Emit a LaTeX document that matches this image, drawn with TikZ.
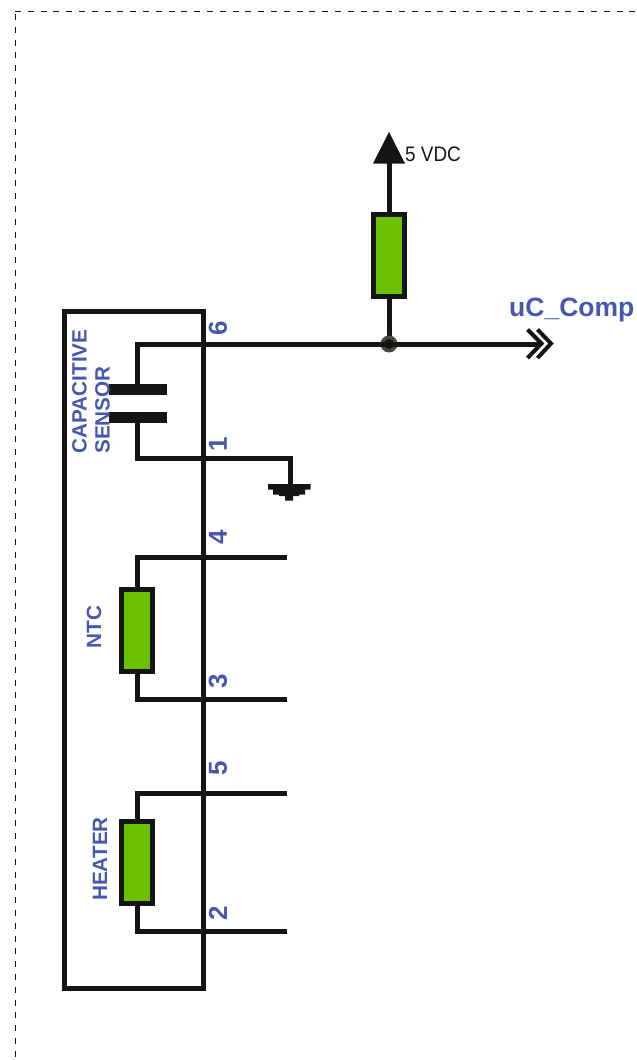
\documentclass[tikz,border=0pt]{standalone}
\usepackage{fontspec}
\setmainfont{Liberation Sans}
\definecolor{ink}{HTML}{141614}
\definecolor{lbl}{HTML}{4657B0}
\definecolor{fillg}{HTML}{6CC000}
\definecolor{jn}{HTML}{4A4A40}
\newcommand{\fs}[1]{\fontsize{#1}{#1}\selectfont}
\tikzset{
  x=1pt,y=-1pt,
  wire/.style={draw=ink,line width=5pt,line join=miter},
  res/.style={draw=ink,fill=fillg,line width=5pt,minimum width=31pt,minimum height=82pt,inner sep=0pt,outer sep=0pt,rectangle},
  plate/.style={fill=ink,minimum width=58pt,minimum height=11pt,inner sep=0pt,outer sep=0pt,rectangle},
  vlabel/.style={text=lbl,font=\fs{20.7}\bfseries,rotate=90,inner sep=0pt,align=center},
  pin/.style={text=lbl,font=\fs{26}\bfseries,rotate=90,inner sep=0pt},
}
\begin{document}
\begin{tikzpicture}
\useasboundingbox (0,0) rectangle (637,1060);
% dashed frame
\draw[draw=ink,line width=1pt,dash pattern=on 6pt off 6.8pt] (15,11) -- (637,11);
\draw[draw=ink,line width=1pt,dash pattern=on 6pt off 6.8pt] (15,14) -- (15,1060);
% module box
\node[draw=ink,line width=5pt,minimum width=139pt,minimum height=677pt,inner sep=0pt,outer sep=0pt,rectangle] (box) at (134,649.5) {};
% coordinates
\coordinate (tl) at (137.5,344);
\coordinate (j) at (389,344);
\coordinate (out) at (540,344);
\coordinate (bl) at (137.5,458);
\coordinate (gc) at (290,458);
\coordinate (gt) at (290,485);
\coordinate (vcc) at (389,160);
\coordinate (n4a) at (137,557); \coordinate (n4b) at (287,557);
\coordinate (n3a) at (137,699); \coordinate (n3b) at (287,699);
\coordinate (n5a) at (137,793); \coordinate (n5b) at (287,793);
\coordinate (n2a) at (137,931); \coordinate (n2b) at (287,931);
% parts
\node[res] (r1) at (389,255.5) {};
\node[res] (ntc) at (137,630) {};
\node[res] (htr) at (137,862) {};
\node[plate] (c1) at (138,389.5) {};
\node[plate] (c2) at (138,417.5) {};
% wires
\draw[wire] (tl |- c1.north) -- (tl) -- (out);
\draw[wire] (bl |- c2.south) -- (bl) -- (gc) -- (gt);
\draw[wire] (r1) -- (j);
\draw[wire] (vcc) -- (r1);
\draw[wire] (ntc) -- (n4a) -- (n4b);
\draw[wire] (ntc) -- (n3a) -- (n3b);
\draw[wire] (htr) -- (n5a) -- (n5b);
\draw[wire] (htr) -- (n2a) -- (n2b);
% junction
\fill[jn] (j) circle (8.5pt);
\fill[ink] (j) circle (5pt);
\fill[ink] (j) ++(-8.5,-2.5) rectangle ++(17,5);
% supply arrow
\fill[ink] (389,132) -- (405,163.5) -- (373,163.5) -- cycle;
% ground
\fill[ink] (268,484) -- (310.5,484) -- (310.5,489.5) -- (305,489.5) -- (305,494.5) -- (299,494.5) -- (299,496) -- (293,496) -- (293,500.5) -- (285,500.5) -- (285,496) -- (279,496) -- (279,494.5) -- (273,494.5) -- (273,489.5) -- (268,489.5) -- cycle;
% double chevron
\draw[draw=ink,line width=4pt] (527.5,329.5) -- (541.5,343.5) -- (527.5,358);
\draw[draw=ink,line width=4pt] (537.5,329.5) -- (551,343.5) -- (537.5,358);
% labels
\node[anchor=west,inner sep=0pt,font=\fs{21},text=ink,xscale=.9] (v5) at (405,154) {5 VDC};
\node[anchor=west,inner sep=0pt,font=\fs{26.5}\bfseries,text=lbl] (uc) at (509,310) {uC\_Comp};
\node[vlabel] (cap1) at (79.5,391.5) {CAPACITIVE};
\node[vlabel] (cap2) at (102.5,410) {SENSOR};
\node[vlabel] (lntc) at (94,627) {NTC};
\node[vlabel] (lhtr) at (100,859) {HEATER};
\node[pin] (p6) at (218,328) {6};
\node[pin] (p1) at (218,444.5) {1};
\node[pin] (p4) at (218,537) {4};
\node[pin] (p3) at (218,681.5) {3};
\node[pin] (p5) at (218,768.5) {5};
\node[pin] (p2) at (218,913.5) {2};
\end{tikzpicture}
\end{document}
